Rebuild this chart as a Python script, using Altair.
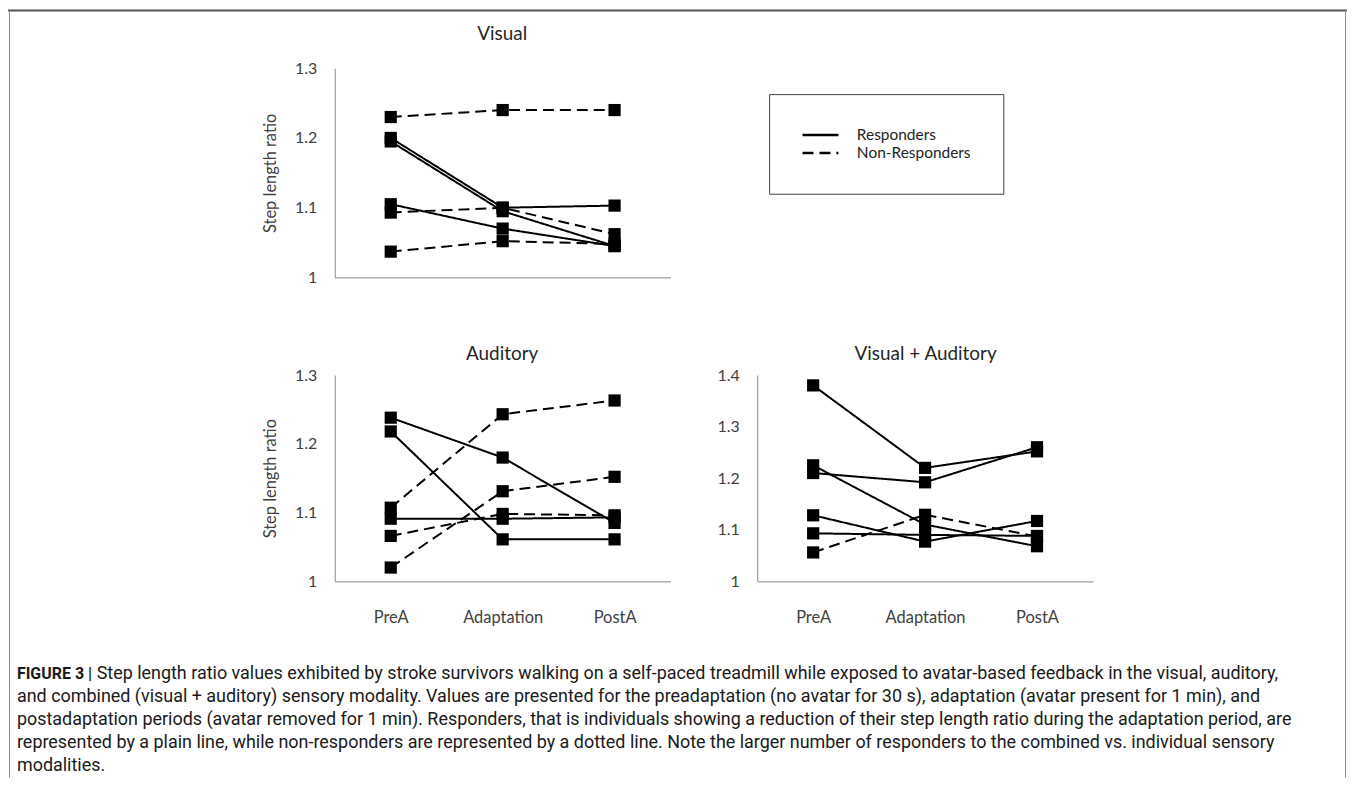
import altair as alt
import pandas as pd

# ---------------- data ----------------
periods = ["PreA", "Adaptation", "PostA"]
groups = ["Responders", "Non-Responders"]

visual_responders = [[1.200, 1.100, 1.103], [1.195, 1.095, 1.045], [1.105, 1.070, 1.045]]
visual_non_responders = [[1.230, 1.240, 1.240], [1.093, 1.100, 1.062], [1.037, 1.052, 1.048]]

auditory_responders = [[1.238, 1.180, 1.085], [1.218, 1.061, 1.061], [1.091, 1.091, 1.093]]
auditory_non_responders = [[1.107, 1.243, 1.263], [1.066, 1.098, 1.096], [1.020, 1.131, 1.152]]

combined_responders = [[1.380, 1.220, 1.252], [1.210, 1.192, 1.260], [1.225, 1.110, 1.068],
                       [1.128, 1.077, 1.117], [1.093, 1.090, 1.088]]
combined_non_responders = [[1.056, 1.129, 1.087]]

ticks_13 = [1, 1.1, 1.2, 1.3]
ticks_14 = [1, 1.1, 1.2, 1.3, 1.4]

panel_titles = ["Visual", "Auditory", "Visual + Auditory"]
y_title = "Step length ratio"

caption_bold = "FIGURE 3 |"
caption_first = ("Step length ratio values exhibited by stroke survivors walking on a self-paced treadmill "
                 "while exposed to avatar-based feedback in the visual, auditory,")
caption_rest = [
    "and combined (visual + auditory) sensory modality. Values are presented for the preadaptation (no avatar for 30 s), adaptation (avatar present for 1 min), and",
    "postadaptation periods (avatar removed for 1 min). Responders, that is individuals showing a reduction of their step length ratio during the adaptation period, are",
    "represented by a plain line, while non-responders are represented by a dotted line. Note the larger number of responders to the combined vs. individual sensory",
    "modalities.",
]


def to_long(resp, nonresp, prefix):
    rows = []
    for gname, series in (("Responders", resp), ("Non-Responders", nonresp)):
        for i, s in enumerate(series):
            for p, v in zip(periods, s):
                rows.append({"id": f"{prefix}-{gname}-{i}", "period": p, "value": v, "group": gname})
    return pd.DataFrame(rows)


# ---------------- layout ----------------
W, H = 1344, 771
FONT = "Lato"
TXT = "#404040"
AXIS_COL = "#A0A0A0"

legend = alt.Legend(
    orient="none", legendX=764, legendY=85, title=None,
    symbolType="stroke", symbolSize=1296, symbolStrokeWidth=2.5, symbolStrokeColor="black",
    clipHeight=18, rowPadding=0, labelOffset=17, labelFontSize=15.5, labelFont=FONT,
    labelColor="#222222", padding=32, strokeColor="#404040", fillColor="white",
    labelExpr="datum.label + '\u00a0\u00a0\u00a0\u00a0\u00a0\u00a0\u00a0'",
)


def panel(df, x_range, y_range, y_domain, y_ticks, show_title, show_x_labels):
    y_axis_x = x_range[0]
    x_axis_y = y_range[0]
    x = alt.X(
        "period:N", sort=periods,
        scale=alt.Scale(type="point", domain=periods, range=x_range, padding=0.5),
        axis=alt.Axis(orient="bottom", offset=x_axis_y - H, title=None, ticks=False, tickSize=0,
                      labels=show_x_labels, labelAngle=0, labelPadding=36, labelBaseline="middle",
                      labelFont=FONT, labelFontSize=16.5, labelColor=TXT, domainColor=AXIS_COL,
                      domainWidth=1.2, grid=False),
    )
    axis_kw = dict(orient="left", offset=-y_axis_x, values=y_ticks, format="~g", ticks=False,
                   tickSize=0, labelPadding=18, labelFont=FONT, labelFontSize=16, labelColor=TXT,
                   domainColor=AXIS_COL, domainWidth=1.2, grid=False)
    if show_title:
        axis_kw.update(title=y_title, titleFont=FONT, titleFontSize=16.5, titleFontWeight="normal",
                       titleColor=TXT, titleAngle=-90, titleX=-64, titleY=(y_range[0] + y_range[1]) / 2,
                       titleAlign="center", titleBaseline="middle")
    else:
        axis_kw.update(title=None)
    y = alt.Y("value:Q", scale=alt.Scale(domain=y_domain, range=y_range, zero=False, nice=False),
              axis=alt.Axis(**axis_kw))
    base = alt.Chart(df)
    lines = base.mark_line(color="black", strokeWidth=2).encode(
        x=x, y=y, detail="id:N",
        strokeDash=alt.StrokeDash("group:N", scale=alt.Scale(domain=groups, range=[[1, 0], [11, 6]]),
                                  legend=legend),
    )
    pts = base.mark_point(shape="square", filled=True, size=150, color="black", opacity=1).encode(
        x=x, y=y, detail="id:N")
    return alt.layer(lines, pts)


visual = panel(to_long(visual_responders, visual_non_responders, "v"),
               [328, 665], [269, 59], [1, 1.3], ticks_13, True, False)
auditory = panel(to_long(auditory_responders, auditory_non_responders, "a"),
                 [328, 665], [574, 367], [1, 1.3], ticks_13, True, True)
combined = panel(to_long(combined_responders, combined_non_responders, "c"),
                 [752, 1089], [574, 367], [1, 1.4], ticks_14, False, True)

one = pd.DataFrame({"a": [0]})


def text(t, x, y, size, weight="normal", font=FONT, align="center", color=TXT, **kw):
    return alt.Chart(one).mark_text(text=t, font=font, fontSize=size, fontWeight=weight,
                                    align=align, baseline="middle", color=color, **kw).encode(
        x=alt.value(x), y=alt.value(y))


titles = [
    text(panel_titles[0], 496, 25, 19, color="#262626"),
    text(panel_titles[1], 496, 346, 19, color="#262626"),
    text(panel_titles[2], 921, 346, 19, color="#262626"),
]

CAP_FONT = "Roboto"
CAP_COL = "#1a1a1a"
captions = [
    text(caption_bold, 9, 667, 16, weight="bold", font=CAP_FONT, align="left", color=CAP_COL),
    text(caption_first, 89, 667, 18, font=CAP_FONT, align="left", color=CAP_COL),
    alt.Chart(one).mark_text(text=caption_rest, font=CAP_FONT, fontSize=18, align="left",
                             baseline="middle", lineHeight=23, color=CAP_COL).encode(
        x=alt.value(9), y=alt.value(690)),
]

frame = [
    alt.Chart(one).mark_rule(color="#555555", strokeWidth=2).encode(
        x=alt.value(0), x2=alt.value(W), y=alt.value(1)),
    alt.Chart(one).mark_rule(color="#8a8a8a", strokeWidth=1).encode(
        x=alt.value(1.5), y=alt.value(0), y2=alt.value(H)),
    alt.Chart(one).mark_rule(color="#8a8a8a", strokeWidth=1).encode(
        x=alt.value(W - 1.5), y=alt.value(0), y2=alt.value(H)),
]

chart = alt.layer(visual, auditory, combined, *titles, *captions, *frame).resolve_scale(
    x="independent", y="independent"
).properties(
    width=W, height=H, padding=0, autosize=alt.AutoSizeParams(type="none"),
    background="white",
).configure_view(stroke=None)

chart.save("out.html", embed_options={"renderer": "svg", "actions": False})
